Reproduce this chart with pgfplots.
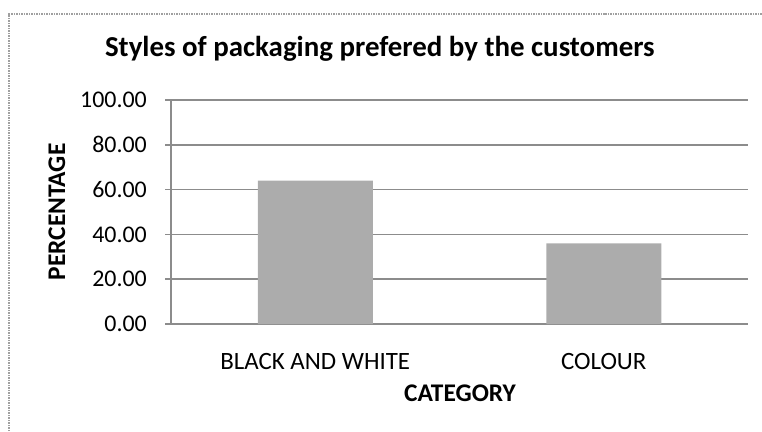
\documentclass[border=0pt]{standalone}
\usepackage{pgfplots}
\pgfplotsset{compat=1.18}
\usepackage{fontspec}
\setmainfont{Carlito}
\definecolor{barfill}{RGB}{172,172,172}
\definecolor{gridc}{RGB}{140,140,140}
\definecolor{framec}{RGB}{160,160,160}
\begin{document}
\begin{tikzpicture}[x=1bp,y=1bp]
\useasboundingbox (0,0) rectangle (762,431);
\draw[framec, densely dotted, line width=1.5bp] (9,0) -- (9,417) -- (762,417);
\begin{axis}[
  at={(171bp,107bp)}, anchor=south west,
  width=577bp, height=224bp, scale only axis,
  ymin=0, ymax=100, ytick={0,20,...,100},
  xmin=-0.5, xmax=1.5, xtick=data,
  xticklabels={BLACK AND WHITE, COLOUR},
  ybar, bar width=115bp,
  axis lines*=left,
  axis line style={gridc, line width=1.5bp},
  ymajorgrids, grid style={gridc, line width=1.5bp},
  tick align=outside, major tick length=6bp,
  ytick style={gridc, line width=1.5bp},
  xtick style={draw=none},
  font=\fontsize{25.5}{30}\selectfont,
  tick label style={font=\fontsize{24}{28}\selectfont},
  /pgf/number format/assume math mode=true,
  /pgf/number format/fixed,
  /pgf/number format/fixed zerofill,
  /pgf/number format/precision=2,
  yticklabel style={anchor=east, inner sep=0pt, xshift=-18bp},
  xticklabel style={anchor=base, inner sep=0pt, yshift=-39bp, font=\fontsize{25}{29}\selectfont},
  title={\bfseries Styles of packaging prefered by the customers},
  title style={at={(rel axis cs:0.362,1.1696)}, anchor=base, font=\fontsize{29}{34}\selectfont, inner sep=0pt},
  xlabel={\bfseries CATEGORY},
  xlabel style={at={(rel axis cs:0.5009,-0.344)}, anchor=base, inner sep=0pt},
  ylabel={\bfseries PERCENTAGE},
  ylabel style={at={(rel axis cs:-0.1976,0.5)}, anchor=center, rotate=0, inner sep=0pt},
]
\addplot[fill=barfill, draw=none] coordinates {(0,64.0) (1,36.0)};
\end{axis}
\end{tikzpicture}
\end{document}
